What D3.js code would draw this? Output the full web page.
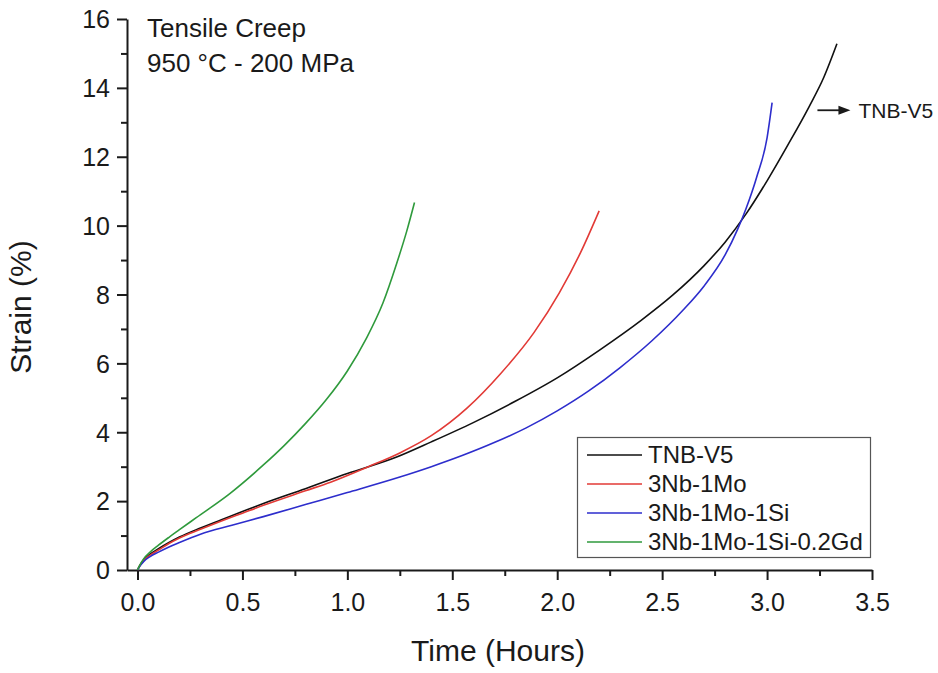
<!DOCTYPE html>
<html>
<head>
<meta charset="utf-8">
<script src="https://cdn.jsdelivr.net/npm/d3@7"></script>
<style>
  html, body { margin: 0; padding: 0; background: #fff; }
  svg { display: block; font-family: "Liberation Sans", Arial, sans-serif; }
</style>
</head>
<body>
<svg id="chart" width="938" height="673"></svg>
<script>
// Creep curves: [time (h), strain (%)]
const tnbV5 = [[0,0],[0.01,0.12],[0.03,0.3],[0.06,0.46],[0.1,0.62],[0.15,0.8],[0.2,0.96],[0.3,1.22],[0.4,1.46],[0.5,1.7],[0.6,1.93],[0.8,2.36],[1.0,2.8],[1.235,3.28],[1.4,3.72],[1.6,4.28],[1.8,4.9],[2.0,5.58],[2.2,6.38],[2.4,7.25],[2.55,7.98],[2.7,8.84],[2.8,9.52],[2.9,10.34],[3.0,11.3],[3.1,12.35],[3.2,13.45],[3.27,14.3],[3.333,15.28]];
const nb3Mo1 = [[0,0],[0.01,0.11],[0.03,0.28],[0.06,0.43],[0.1,0.58],[0.15,0.77],[0.2,0.93],[0.3,1.18],[0.4,1.42],[0.5,1.65],[0.6,1.88],[0.8,2.3],[0.92,2.55],[1.1,3.0],[1.25,3.4],[1.4,3.9],[1.57,4.7],[1.73,5.7],[1.89,6.9],[2.01,8.05],[2.11,9.2],[2.2,10.43]];
const nb3Mo1Si1 = [[0,0],[0.01,0.1],[0.03,0.25],[0.06,0.39],[0.1,0.52],[0.15,0.67],[0.2,0.8],[0.3,1.04],[0.45,1.3],[0.6,1.55],[0.8,1.9],[1.0,2.25],[1.25,2.7],[1.4,3.0],[1.55,3.33],[1.7,3.7],[1.85,4.12],[2.0,4.62],[2.15,5.2],[2.3,5.88],[2.45,6.65],[2.6,7.55],[2.7,8.25],[2.8,9.15],[2.86,9.9],[2.9,10.5],[2.95,11.4],[3.0,12.55],[3.024,13.57]];
const nb3Mo1Si1Gd = [[0,0],[0.01,0.13],[0.03,0.33],[0.06,0.52],[0.1,0.72],[0.15,0.95],[0.2,1.17],[0.28,1.52],[0.44,2.22],[0.6,3.05],[0.7,3.62],[0.8,4.25],[0.9,4.95],[1.0,5.78],[1.09,6.72],[1.17,7.76],[1.235,8.9],[1.283,9.84],[1.32,10.67]];

const seriesNames = ["TNB-V5", "3Nb-1Mo", "3Nb-1Mo-1Si", "3Nb-1Mo-1Si-0.2Gd"];
const seriesData = [tnbV5, nb3Mo1, nb3Mo1Si1, nb3Mo1Si1Gd];
const seriesColors = ["#111111", "#e23a36", "#2d2dcc", "#2f9a3c"];

const xMajorTicks = [0, 0.5, 1.0, 1.5, 2.0, 2.5, 3.0, 3.5];
const xMinorTicks = [0.25, 0.75, 1.25, 1.75, 2.25, 2.75, 3.25];
const yMajorTicks = [0, 2, 4, 6, 8, 10, 12, 14, 16];
const yMinorTicks = [1, 3, 5, 7, 9, 11, 13, 15];

const titleLines = ["Tensile Creep", "950 °C - 200 MPa"];
const xTitle = "Time (Hours)";
const yTitle = "Strain (%)";
const calloutText = "TNB-V5";
const calloutPoint = [3.24, 13.35];

const svg = d3.select("#chart");
const textColor = "#1a1a1a";

const x = d3.scaleLinear().domain([-0.05, 3.5]).range([127, 872]);
const y = d3.scaleLinear().domain([0, 16]).range([570, 19]);

// Axes
const xAxis = svg.append("g").attr("transform", `translate(0,${y(0)})`);
xAxis.call(d3.axisBottom(x).tickValues(xMajorTicks).tickFormat(d3.format(".1f")).tickSize(10).tickSizeOuter(0));
const xMinor = svg.append("g").attr("transform", `translate(0,${y(0)})`);
xMinor.call(d3.axisBottom(x).tickValues(xMinorTicks).tickFormat("").tickSize(6).tickSizeOuter(0));
xMinor.select(".domain").remove();

const yAxis = svg.append("g").attr("transform", `translate(${x.range()[0]},0)`);
yAxis.call(d3.axisLeft(y).tickValues(yMajorTicks).tickFormat(d3.format("d")).tickSize(10).tickSizeOuter(0));
const yMinor = svg.append("g").attr("transform", `translate(${x.range()[0]},0)`);
yMinor.call(d3.axisLeft(y).tickValues(yMinorTicks).tickFormat("").tickSize(6).tickSizeOuter(0));
yMinor.select(".domain").remove();

svg.selectAll(".domain").attr("stroke", textColor).attr("stroke-width", 2);
svg.selectAll(".tick line").attr("stroke", textColor).attr("stroke-width", 2);
xAxis.selectAll(".tick text").attr("font-size", 25).attr("fill", textColor).attr("dy", "0").attr("y", 41);
yAxis.selectAll(".tick text").attr("font-size", 25).attr("fill", textColor).attr("x", -17).attr("dy", "0.35em");
svg.selectAll("g").attr("font-family", null);

// Axis titles
svg.append("text")
  .attr("x", 498).attr("y", 661)
  .attr("text-anchor", "middle")
  .attr("font-size", 30).attr("fill", textColor)
  .text(xTitle);
svg.append("text")
  .attr("transform", "translate(31,307) rotate(-90)")
  .attr("text-anchor", "middle")
  .attr("font-size", 30).attr("fill", textColor)
  .text(yTitle);

// Curves
const line = d3.line().x(d => x(d[0])).y(d => y(d[1])).curve(d3.curveMonotoneX);
svg.append("g").selectAll("path")
  .data(seriesData)
  .join("path")
  .attr("d", line)
  .attr("fill", "none")
  .attr("stroke", (d, i) => seriesColors[i])
  .attr("stroke-width", 1.6)
  .attr("stroke-linejoin", "round");

// Test condition
svg.append("g").selectAll("text")
  .data(titleLines)
  .join("text")
  .attr("x", 147)
  .attr("y", (d, i) => 37 + i * 35)
  .attr("font-size", 26).attr("fill", textColor)
  .text(d => d);

// Callout for the TNB-V5 curve end
const ay = y(calloutPoint[1]);
const ax = x(calloutPoint[0]);
svg.append("line")
  .attr("x1", ax).attr("x2", ax + 24)
  .attr("y1", ay).attr("y2", ay)
  .attr("stroke", textColor).attr("stroke-width", 1.8);
svg.append("path")
  .attr("d", `M${ax + 21},${ay - 4.5} L${ax + 33},${ay} L${ax + 21},${ay + 4.5} Z`)
  .attr("fill", textColor);
svg.append("text")
  .attr("x", ax + 41).attr("y", ay)
  .attr("dy", "0.35em")
  .attr("font-size", 21).attr("fill", textColor)
  .text(calloutText);

// Legend
const legend = svg.append("g");
legend.append("rect")
  .attr("x", 577.5).attr("y", 437.5)
  .attr("width", 293).attr("height", 120)
  .attr("fill", "#fff")
  .attr("stroke", "#555").attr("stroke-width", 1.2);
const rows = legend.selectAll("g.row")
  .data(seriesNames)
  .join("g")
  .attr("class", "row")
  .attr("transform", (d, i) => `translate(0,${455 + i * 29})`);
rows.append("line")
  .attr("x1", 587).attr("x2", 642)
  .attr("y1", 0).attr("y2", 0)
  .attr("stroke", (d, i) => seriesColors[i])
  .attr("stroke-width", 1.6);
rows.append("text")
  .attr("x", 648).attr("y", 0)
  .attr("dy", "0.35em")
  .attr("font-size", 24).attr("fill", textColor)
  .text(d => d);
</script>
</body>
</html>
